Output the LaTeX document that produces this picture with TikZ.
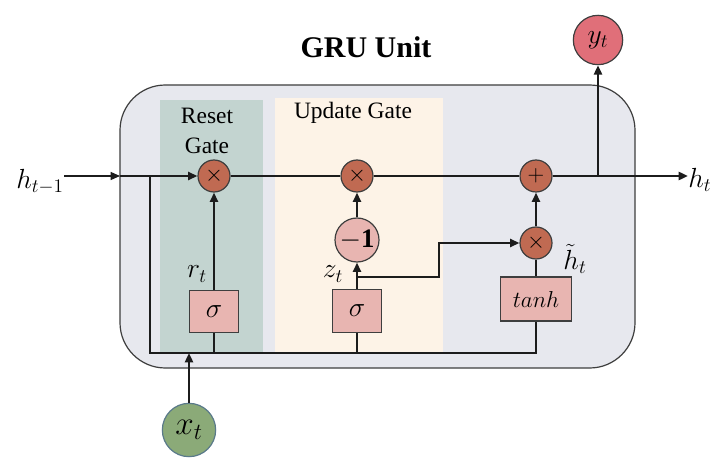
\documentclass[tikz,border=0pt]{standalone}
\usepackage{fontspec}
\setmainfont{Liberation Serif}
\usetikzlibrary{arrows.meta}
\definecolor{boxbg}{HTML}{E7E8EE}
\definecolor{resetbg}{HTML}{C3D4D0}
\definecolor{updbg}{HTML}{FDF3E7}
\definecolor{opfill}{HTML}{C06A52}
\definecolor{actfill}{HTML}{E8B5B1}
\definecolor{ytfill}{HTML}{E06F79}
\definecolor{xtfill}{HTML}{8BAA78}
\definecolor{xtedge}{HTML}{5A7A8A}
\definecolor{ink}{HTML}{1C1C1C}
\begin{document}
\begin{tikzpicture}[x=0.75pt,y=-0.75pt,
  wire/.style={draw=ink,line width=2.1pt},
  thinwire/.style={draw=ink,line width=0.9pt},
  tip/.style={-{Triangle[length=7pt,width=6pt]}},
  opnode/.style={circle,draw=ink!85,line width=0.9pt,fill=opfill,minimum size=24pt,inner sep=0pt,font=\fontsize{17}{17}\selectfont},
  actbox/.style={rectangle,draw=ink!85,line width=0.9pt,fill=actfill,inner sep=0pt,font=\fontsize{20}{20}\selectfont},
  lbl/.style={font=\fontsize{20}{20}\selectfont,inner sep=0pt},
  gatetxt/.style={font=\fontsize{17.6}{23}\selectfont,align=center,inner sep=0pt}
]
\useasboundingbox (0,0) rectangle (716,459);
% background panels
\draw[fill=boxbg,draw=ink!85,line width=0.9pt,rounded corners=34pt] (120,85) rectangle (635,368);
\fill[resetbg] (160,100) rectangle (263,352);
\fill[updbg] (275,98) rectangle (443,352);
% texts
\node[font=\bfseries\fontsize{22.5}{22.5}\selectfont] (title) at (366,47) {GRU Unit};
\node[gatetxt] (rgt) at (207,131) {Reset\\Gate};
\node[gatetxt] (ugt) at (353,113) {Update Gate};
% nodes
\node[lbl,font=\fontsize{21}{21}\selectfont,anchor=east] (hin) at (64,182) {$h_{t-1}$};
\coordinate (entry) at (120,176);
\coordinate (split) at (150,176);
\node[opnode] (mr) at (214,176) {$\times$};
\node[opnode] (mu) at (357,176) {$\times$};
\node[opnode] (pl) at (536,176) {$+$};
\coordinate (tap) at (598,176);
\node[circle,draw=ink!85,line width=0.9pt,fill=ytfill,minimum size=37pt,inner sep=0pt,font=\fontsize{22}{22}\selectfont] (yt) at (598,40) {$y_t$};
\node[lbl,font=\fontsize{21}{21}\selectfont,anchor=west] (hout) at (688,180) {$h_t$};
\node[actbox,minimum width=36.5pt,minimum height=32pt] (sr) at (214,311.5) {$\sigma$};
\node[actbox,minimum width=36.5pt,minimum height=32pt] (su) at (357,311) {$\sigma$};
\node[circle,draw=ink!85,line width=0.9pt,fill=actfill,minimum size=33pt,inner sep=0pt,font=\fontsize{20}{20}\selectfont] (m1) at (357,240) {$\mathbf{-1}$};
\node[opnode] (mh) at (536,243) {$\times$};
\node[actbox,minimum width=53pt,minimum height=33pt,font=\fontsize{19}{19}\selectfont] (th) at (536,299) {$tanh$};
\node[circle,draw=xtedge,line width=0.9pt,fill=xtfill,minimum size=40pt,inner sep=0pt,font=\fontsize{23}{23}\selectfont] (xt) at (189,430) {$x_t$};
\node[lbl] (rt) at (197,274) {$r_t$};
\node[lbl] (zt) at (333,274) {$z_t$};
\node[lbl] (ht) at (575,259) {$\tilde{h}_t$};
\coordinate (bl) at (150,353);
\coordinate (zb) at (357,277);
\coordinate (zc) at (439,277);
% connectors
\draw[thinwire,tip] (hin.east |- entry) -- (entry);
\draw[wire,tip] (entry) -- (mr.west);
\draw[wire] (mr.east) -- (mu.west);
\draw[wire] (mu.east) -- (pl.west);
\draw[wire,tip] (pl.east) -- (hout.west |- pl);
\draw[wire,tip] (tap) -- (yt.south);
\draw[wire] (split) -- (bl) -| (th.south);
\draw[wire] (sr.south) -- (sr.south |- bl);
\draw[wire] (su.south) -- (su.south |- bl);
\draw[wire,tip] (xt.north) -- (xt.north |- bl);
\draw[wire,tip] (sr.north) -- (mr.south);
\draw[wire,tip] (su.north) -- (m1.south);
\draw[wire,tip] (m1.north) -- (mu.south);
\draw[wire,tip] (zb) -- (zc) |- (mh.west);
\draw[wire] (th.north) -- (mh.south);
\draw[wire,tip] (mh.north) -- (pl.south);
\end{tikzpicture}
\end{document}
